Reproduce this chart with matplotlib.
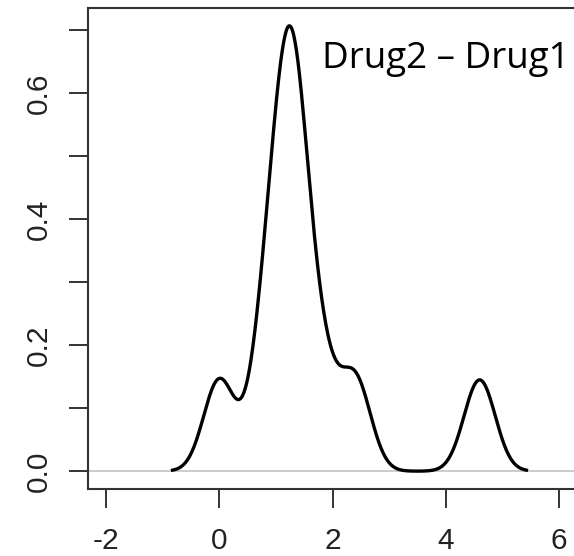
import numpy as np
import matplotlib
matplotlib.use("Agg")
import matplotlib.pyplot as plt

# paired differences, drug 2 minus drug 1 (extra hours of sleep)
diff = [1.2, 2.4, 1.3, 1.3, 0.0, 1.0, 1.8, 0.8, 4.6, 1.4]

xticks = [-2, 0, 2, 4, 6]
yticks = [0.0, 0.1, 0.2, 0.3, 0.4, 0.5, 0.6, 0.7]
ylabels = ["0.0", "", "0.2", "", "0.4", "", "0.6", ""]

# gaussian kernel density, same defaults as R's density()
d = np.array(diff)
q1, q3 = np.percentile(d, [25, 75])
bw = 0.9 * min(d.std(ddof=1), (q3 - q1) / 1.34) * len(d) ** -0.2
grid = np.linspace(d.min() - 3 * bw, d.max() + 3 * bw, 512)
dens = np.exp(-0.5 * ((grid[:, None] - d[None, :]) / bw) ** 2).sum(axis=1)
dens /= len(d) * bw * np.sqrt(2 * np.pi)

W, H = 574, 556
fig = plt.figure(figsize=(W / 100, H / 100), dpi=100)
ax = fig.add_axes([88 / W, 67 / H, 489 / W, 481 / H])

ax.axhline(0, color="#c8c8c8", lw=1.3, zorder=1)
ax.plot(grid, dens, color="black", lw=2.4, zorder=2)

ax.set_xlim(-2.32, 6.32)
top = dens.max()
ax.set_ylim(-0.04 * top, 1.04 * top)

ax.set_xticks(xticks)
ax.set_xticklabels([str(t) for t in xticks])
ax.set_yticks(yticks)
ax.set_yticklabels(ylabels, rotation=90, va="center")
for lab in ax.get_xticklabels() + ax.get_yticklabels():
    lab.set_fontfamily("Liberation Sans")
    lab.set_fontsize(21.5)
    lab.set_color("#222222")
ax.tick_params(axis="both", direction="out", length=13.5, width=1.4, color="#333333")
ax.tick_params(axis="x", pad=14)
ax.tick_params(axis="y", pad=12)

for s in ax.spines.values():
    s.set_color("#333333")
    s.set_linewidth(1.5)

ax.text(0.4785, 0.894, "Drug2 \u2013 Drug1", transform=ax.transAxes,
        fontfamily="Open Sans", fontsize=26.5, color="black", va="center", ha="left")

fig.savefig("out.png", dpi=100)
